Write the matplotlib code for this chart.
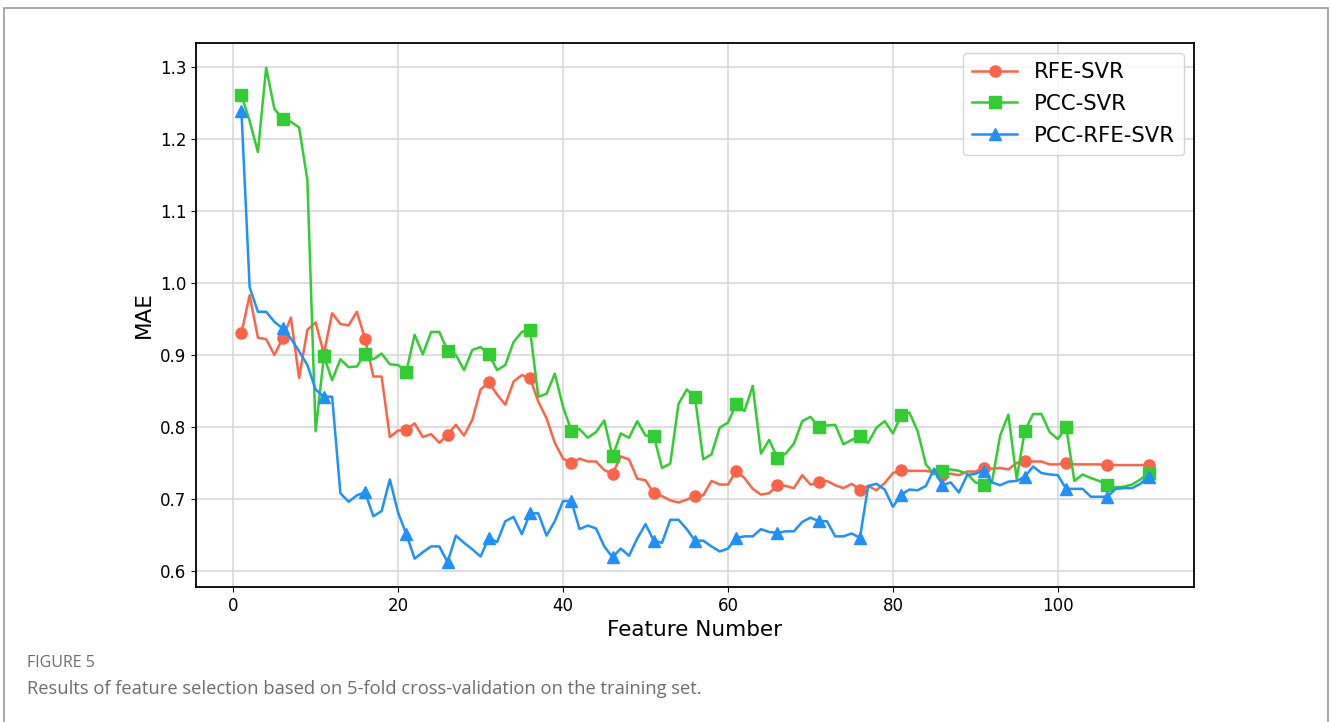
import numpy as np
import matplotlib
matplotlib.use("Agg")
import matplotlib.pyplot as plt
from matplotlib.patches import Rectangle

features = np.arange(1, 112)

rfe_svr = [
    0.930, 0.983, 0.924, 0.922, 0.900, 0.923, 0.952, 0.868, 0.935, 0.945,
    0.902, 0.958, 0.943, 0.941, 0.960, 0.922, 0.870, 0.870, 0.786, 0.795,
    0.796, 0.805, 0.786, 0.790, 0.778, 0.789, 0.803, 0.788, 0.810, 0.852,
    0.862, 0.845, 0.831, 0.863, 0.872, 0.868, 0.835, 0.812, 0.778, 0.756,
    0.750, 0.756, 0.752, 0.752, 0.740, 0.735, 0.759, 0.755, 0.728, 0.726,
    0.708, 0.704, 0.698, 0.695, 0.699, 0.704, 0.705, 0.725, 0.720, 0.720,
    0.739, 0.729, 0.714, 0.706, 0.708, 0.719, 0.718, 0.715, 0.733, 0.720,
    0.723, 0.725, 0.719, 0.715, 0.721, 0.713, 0.718, 0.712, 0.722, 0.736,
    0.740, 0.739, 0.739, 0.739, 0.737, 0.733, 0.735, 0.733, 0.738, 0.738,
    0.743, 0.742, 0.743, 0.741, 0.750, 0.752, 0.752, 0.752, 0.748, 0.748,
    0.750, 0.748, 0.748, 0.748, 0.748, 0.747, 0.747, 0.747, 0.747, 0.747,
    0.747,
]

pcc_svr = [
    1.261, 1.225, 1.182, 1.299, 1.242, 1.228, 1.224, 1.216, 1.143, 0.794,
    0.898, 0.865, 0.894, 0.883, 0.884, 0.902, 0.894, 0.902, 0.887, 0.886,
    0.877, 0.928, 0.901, 0.932, 0.932, 0.906, 0.900, 0.879, 0.907, 0.911,
    0.901, 0.879, 0.886, 0.918, 0.932, 0.935, 0.842, 0.846, 0.874, 0.828,
    0.795, 0.797, 0.785, 0.793, 0.809, 0.759, 0.791, 0.785, 0.808, 0.788,
    0.788, 0.743, 0.749, 0.832, 0.852, 0.841, 0.755, 0.762, 0.799, 0.806,
    0.832, 0.822, 0.857, 0.763, 0.782, 0.757, 0.763, 0.777, 0.808, 0.814,
    0.800, 0.802, 0.803, 0.776, 0.782, 0.787, 0.778, 0.799, 0.808, 0.791,
    0.816, 0.820, 0.794, 0.748, 0.734, 0.739, 0.741, 0.739, 0.735, 0.723,
    0.720, 0.723, 0.788, 0.817, 0.728, 0.795, 0.818, 0.818, 0.793, 0.783,
    0.800, 0.725, 0.734, 0.729, 0.725, 0.719, 0.716, 0.717, 0.720, 0.727,
    0.736,
]

pcc_rfe_svr = [
    1.239, 0.994, 0.960, 0.960, 0.946, 0.937, 0.923, 0.905, 0.886, 0.852,
    0.842, 0.842, 0.708, 0.696, 0.705, 0.709, 0.676, 0.683, 0.727, 0.681,
    0.651, 0.617, 0.626, 0.634, 0.634, 0.612, 0.649, 0.639, 0.630, 0.620,
    0.646, 0.640, 0.669, 0.675, 0.651, 0.680, 0.680, 0.649, 0.669, 0.697,
    0.697, 0.658, 0.663, 0.659, 0.634, 0.619, 0.631, 0.621, 0.645, 0.665,
    0.642, 0.639, 0.671, 0.671, 0.658, 0.642, 0.642, 0.634, 0.627, 0.631,
    0.646, 0.648, 0.648, 0.658, 0.654, 0.653, 0.655, 0.655, 0.668, 0.674,
    0.669, 0.669, 0.648, 0.648, 0.652, 0.646, 0.718, 0.721, 0.713, 0.689,
    0.706, 0.713, 0.712, 0.718, 0.742, 0.719, 0.723, 0.709, 0.733, 0.735,
    0.739, 0.723, 0.719, 0.724, 0.725, 0.731, 0.745, 0.736, 0.734, 0.733,
    0.714, 0.714, 0.714, 0.703, 0.703, 0.703, 0.714, 0.715, 0.715, 0.721,
    0.731,
]

fig = plt.figure(figsize=(13.3, 7.22), dpi=100)
ax = fig.add_axes([0.1474, 0.187, 0.7503, 0.7534])

ax.plot(features, rfe_svr, color="tomato", marker="o", markevery=5,
        markersize=8, linewidth=1.8, label="RFE-SVR")
ax.plot(features, pcc_svr, color="limegreen", marker="s", markevery=5,
        markersize=8, linewidth=1.8, label="PCC-SVR")
ax.plot(features, pcc_rfe_svr, color="dodgerblue", marker="^", markevery=5,
        markersize=8, linewidth=1.8, label="PCC-RFE-SVR")

ax.grid(True, color="#d9d9d9", linewidth=1.2)
ax.set_axisbelow(True)
ax.tick_params(labelsize=12)
ax.set_xlabel("Feature Number", fontsize=15.5)
ax.set_ylabel("MAE", fontsize=15.5)
ax.legend(loc="upper right", fontsize=15.3, borderpad=0.45, handlelength=2.1,
          labelspacing=0.55, borderaxespad=0.45)
for s in ax.spines.values():
    s.set_linewidth(1.3)

# journal frame and caption
fig.patches.append(Rectangle((4 / 1330, -0.05), 1323.5 / 1330, 1.05 - 7.5 / 722,
                             transform=fig.transFigure, fill=False,
                             edgecolor="#999999", linewidth=1.2))
fig.text(27 / 1330, 1 - 663 / 722, "FIGURE 5", fontsize=11.5, color="#6e6e6e",
         family="Open Sans", va="center")
fig.text(27 / 1330, 1 - 689 / 722,
         "Results of feature selection based on 5-fold cross-validation on the training set.",
         fontsize=13.2, color="#6e6e6e", family="Open Sans", va="center")

fig.savefig("out.png", dpi=100)
